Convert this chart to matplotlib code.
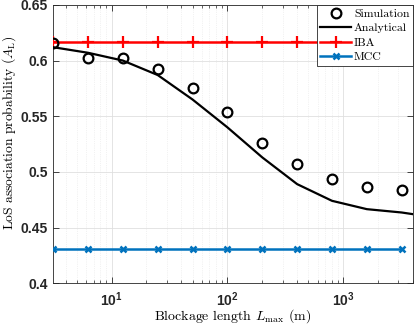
import numpy as np
import matplotlib
matplotlib.use("Agg")
import matplotlib.pyplot as plt
from matplotlib.ticker import LogLocator, NullFormatter

# blockage lengths (m)
L_sim = [3.125, 6.25, 12.5, 25, 50, 100, 200, 400, 800, 1600, 3200]
sim_vals = [0.616, 0.602, 0.602, 0.592, 0.575, 0.554, 0.526, 0.507, 0.494, 0.486, 0.484]

L_ana = [3.125, 6.25, 12.5, 25, 50, 100, 200, 400, 800, 1600, 3200, 4000]
ana_vals = [0.612, 0.607, 0.600, 0.587, 0.565, 0.540, 0.513, 0.489, 0.474, 0.4665, 0.4635, 0.462]

iba_val = 0.617
mcc_val = 0.431

y_ticks = [0.4, 0.45, 0.5, 0.55, 0.6, 0.65]
y_ticklabels = ["0.4", "0.45", "0.5", "0.55", "0.6", "0.65"]
x_ticks = [10, 100, 1000]
x_ticklabels = [r"$\mathbf{10^{1}}$", r"$\mathbf{10^{2}}$", r"$\mathbf{10^{3}}$"]

plt.rcParams["mathtext.fontset"] = "custom"
plt.rcParams["mathtext.rm"] = "cmr10"
plt.rcParams["mathtext.it"] = "cmmi10"
plt.rcParams["mathtext.bf"] = "Liberation Sans:bold"
plt.rcParams["mathtext.fallback"] = "cm"

fig = plt.figure(figsize=(4.15, 3.27), dpi=100)
ax = fig.add_axes([0.128, 0.134, 0.867, 0.851])

ax.plot(L_sim, sim_vals, "o", color="k", mfc="none", mew=1.6, ms=7, ls="none",
        label="Simulation", zorder=5)
ax.plot(L_ana, ana_vals, "-", color="k", lw=1.6, label="Analytical", zorder=4)
ax.plot(L_sim, [iba_val] * len(L_sim), "-+", color="#FF0000", lw=1.8, ms=9, mew=1.6,
        label="IBA", zorder=3)
ax.plot(L_sim, [mcc_val] * len(L_sim), "-x", color="#0072BD", lw=1.8, ms=5, mew=1.8,
        label="MCC", zorder=3)

ax.set_xscale("log")
ax.set_xlim(3.125, 4000)
ax.set_ylim(0.4, 0.65)
ax.set_yticks(y_ticks)
ax.set_yticklabels(y_ticklabels)
ax.xaxis.set_minor_locator(LogLocator(base=10, subs=np.arange(2, 10), numticks=10))
ax.xaxis.set_minor_formatter(NullFormatter())
ax.set_xticks(x_ticks)
ax.set_xticklabels(x_ticklabels)

for lab in ax.get_xticklabels() + ax.get_yticklabels():
    lab.set_fontfamily("Liberation Sans")
    lab.set_fontweight("bold")
    lab.set_fontsize(10)
    lab.set_color("#262626")

ax.tick_params(which="both", direction="in", top=True, right=True, color="#262626")
ax.tick_params(which="major", length=4, width=0.6)
ax.tick_params(which="minor", length=2, width=0.5)
ax.tick_params(axis="y", pad=4)
ax.tick_params(axis="x", pad=5)

ax.grid(True, which="major", color="#DFDFDF", lw=0.6, ls="-")
ax.grid(True, which="minor", axis="x", color="#E6E6E6", lw=0.5, ls=":")
ax.set_axisbelow(True)
for sp in ax.spines.values():
    sp.set_color("#262626")
    sp.set_linewidth(0.6)

ax.set_xlabel(r"Blockage length $L_{\max}$ (m)", fontfamily="cmr10", fontsize=10,
              labelpad=-1)
ax.set_ylabel(r"LoS association probability $(A_{\mathrm{L}})$", fontfamily="cmr10",
              fontsize=9.8)
ax.yaxis.set_label_coords(-0.098, 0.54)

leg = ax.legend(loc="upper right", prop={"family": "cmr10", "size": 8.5},
                fancybox=False, framealpha=1, edgecolor="#262626",
                borderpad=0.3, handlelength=2.6, handletextpad=0.25,
                labelspacing=0.36, borderaxespad=0.0)
leg.get_frame().set_linewidth(0.6)

fig.savefig("out.png", dpi=100)
